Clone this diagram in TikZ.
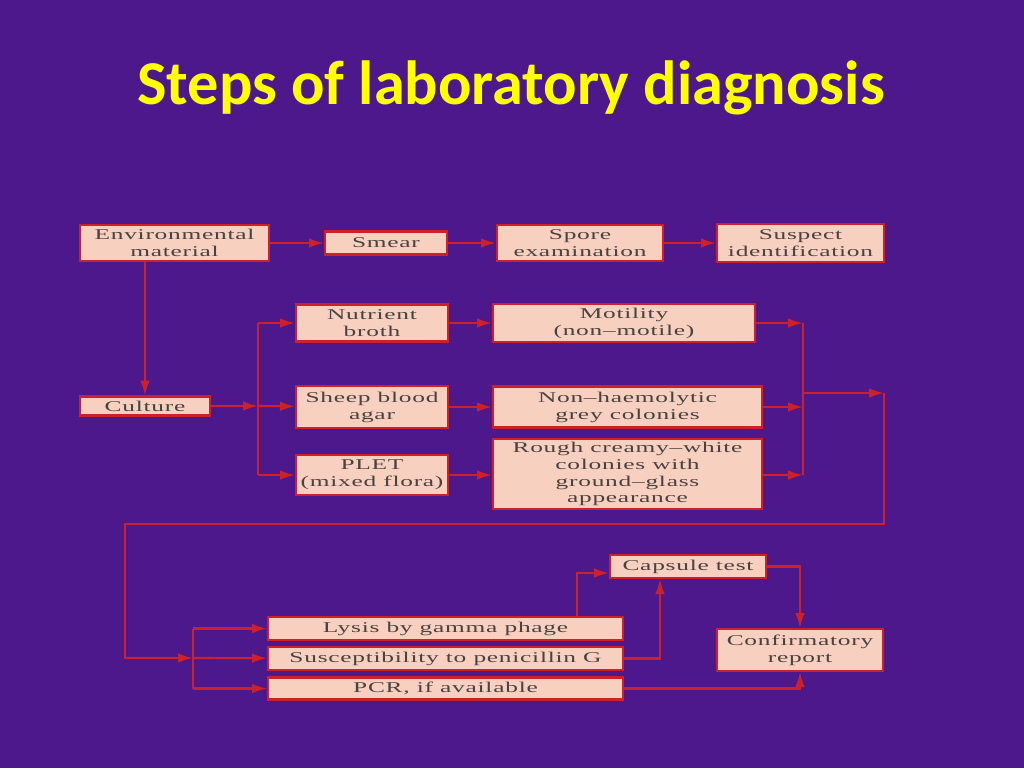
\documentclass[tikz,border=0pt]{standalone}
\usepackage{fontspec}
\usepackage{tikz}
\usetikzlibrary{arrows.meta,positioning,calc}
\newfontfamily\titlefont{Carlito}
\newfontfamily\boxfont{Liberation Serif}[FakeStretch=1.7,LetterSpace=5]
\definecolor{slidebg}{RGB}{76,24,140}
\definecolor{linered}{RGB}{206,32,40}
\definecolor{boxfill}{RGB}{248,208,192}
\definecolor{boxtext}{RGB}{72,66,64}
\definecolor{titleyellow}{RGB}{255,255,0}

\begin{document}
\begin{tikzpicture}[x=0.02cm,y=-0.02cm,
    bx/.style={rectangle,draw=linered,line width=1.2pt,fill=boxfill,text=boxtext,
      align=center,inner sep=0pt,font=\boxfont\fontsize{8.5}{9.6}\selectfont},
    sz/.style 2 args={minimum width=#1*0.02cm,minimum height=#2*0.02cm},
    ln/.style={draw=linered,line width=1.2pt},
    arr/.style={ln,-{Latex[length=8.5pt,width=5.5pt]}}]
  \fill[slidebg] (0,0) rectangle (1024,768);
  \useasboundingbox (0,0) rectangle (1024,768);
  \node[font=\titlefont\bfseries\fontsize{35.5}{40}\selectfont,text=titleyellow] (title) at (511,88) {Steps of laboratory diagnosis};
  % top row
  \node[bx,sz={189}{36}] (env) at (174.5,243) {Environmental\\material};
  \node[bx,sz={122}{23}] (smear) at (386,243) {Smear};
  \node[bx,sz={166}{36}] (spore) at (580,243) {Spore\\examination};
  \node[bx,sz={167}{38}] (susp) at (800.5,243) {Suspect\\identification};
  % culture media
  \node[bx,sz={130}{19}] (cult) at (145,406) {Culture};
  \node[bx,sz={152}{37}] (nut) at (372,323) {Nutrient\\broth};
  \node[bx,sz={152}{42}] (sheep) at (372,407) {Sheep blood\\agar};
  \node[bx,sz={152}{40}] (plet) at (372,475) {PLET\\(mixed flora)};
  \node[bx,sz={262}{38}] (mot) at (624,323) {Motility\\(non\textendash motile)};
  \node[bx,sz={269}{41}] (nonh) at (627.5,407) {Non\textendash haemolytic\\grey colonies};
  \node[bx,sz={269}{70}] (rough) at (627.5,474) {Rough creamy\textendash white\\colonies with\\ground\textendash glass\\appearance};
  % tests
  \node[bx,sz={355}{23}] (lys) at (445.5,628.5) {Lysis by gamma phage};
  \node[bx,sz={355}{23}] (susc) at (445.5,658.5) {Susceptibility to penicillin G};
  \node[bx,sz={355}{22}] (pcr) at (445.5,688.5) {PCR, if available};
  \node[bx,sz={156}{23}] (cap) at (688,566.5) {Capsule test};
  \node[bx,sz={166}{42}] (conf) at (800,650) {Confirmatory\\report};
  % junctions
  \coordinate (j1) at (258,406);
  \coordinate (j2) at (803,393);
  \coordinate (r1) at (884,393);
  \coordinate (c1) at (884,524);
  \coordinate (c2) at (125,524);
  \coordinate (j3) at (193,658);
  \coordinate (k1) at (577,573);
  \coordinate (k2) at (660,600);
  % connectors
  \draw[arr] (env) -- (smear);
  \draw[arr] (smear) -- (spore);
  \draw[arr] (spore) -- (susp);
  \draw[arr] (env.south -| cult) -- (cult);
  \draw[arr] (cult) -- (j1);
  \draw[ln] (j1 |- nut) -- (j1 |- plet);
  \draw[arr] (j1 |- nut) -- (nut);
  \draw[arr] (j1) -- (sheep);
  \draw[arr] (j1 |- plet) -- (plet);
  \draw[arr] (nut) -- (mot);
  \draw[arr] (sheep) -- (nonh);
  \draw[arr] (plet) -- (plet -| rough.west);
  \draw[arr] (mot) -- (mot -| j2);
  \draw[arr] (nonh) -- (nonh -| j2);
  \draw[arr] (plet -| rough.east) -- (plet -| j2);
  \draw[ln] (j2 |- mot) -- (j2 |- plet);
  \draw[arr] (j2) -- (r1);
  \draw[arr] (r1) -- (c1) -- (c2) |- (j3);
  \draw[ln] (j3 |- lys) -- (j3 |- pcr);
  \draw[arr] (j3 |- lys) -- (lys);
  \draw[arr] (j3) -- (susc);
  \draw[arr] (j3 |- pcr) -- (pcr);
  \draw[arr] (lys.north -| k1) |- (cap.west |- k1);
  \draw[arr] (susc) -| (k2 |- cap.south);
  \draw[arr] (cap) -| (conf);
  \draw[arr] (pcr) -| (conf);
\end{tikzpicture}
\end{document}
